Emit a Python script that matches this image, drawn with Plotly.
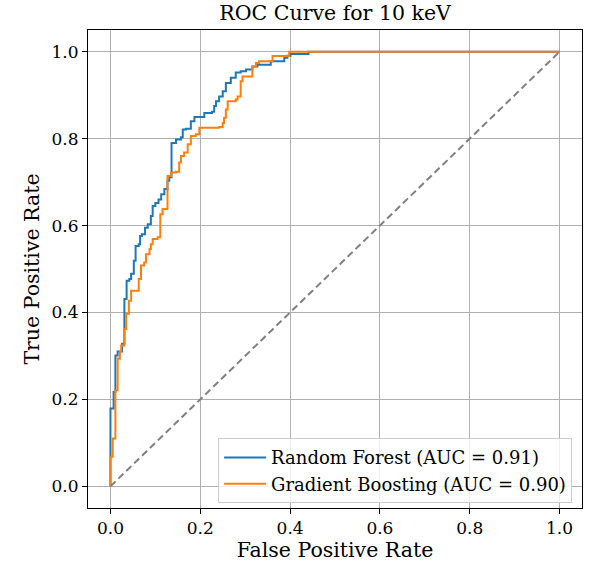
import plotly.graph_objects as go

# Random Forest ROC corner points (fpr, top tpr of each vertical step)
rf_fpr = [0, 0, 0.007, 0.011, 0.016, 0.026, 0.031, 0.036, 0.042, 0.046, 0.052, 0.056,
          0.063, 0.066, 0.070, 0.077, 0.083, 0.090, 0.094, 0.100, 0.107, 0.113, 0.120,
          0.127, 0.131, 0.136, 0.146, 0.157, 0.161, 0.168, 0.179, 0.187, 0.209, 0.226,
          0.231, 0.235, 0.242, 0.250, 0.257, 0.268, 0.279, 0.290, 0.302, 0.316, 0.327,
          0.357, 0.387, 0.394, 0.401, 0.441, 1.0]
rf_tpr = [0, 0.179, 0.217, 0.301, 0.310, 0.328, 0.431, 0.473, 0.477, 0.489, 0.519, 0.553,
          0.557, 0.576, 0.580, 0.595, 0.603, 0.622, 0.645, 0.652, 0.660, 0.672, 0.684,
          0.703, 0.711, 0.790, 0.798, 0.803, 0.821, 0.823, 0.840, 0.850, 0.859, 0.862,
          0.875, 0.886, 0.897, 0.909, 0.928, 0.940, 0.952, 0.955, 0.959, 0.966, 0.970,
          0.978, 0.986, 0.991, 0.995, 1.0, 1.0]

# Gradient Boosting ROC corner points
gb_fpr = [0, 0, 0.005, 0.011, 0.016, 0.021, 0.024, 0.031, 0.035, 0.041, 0.046, 0.063,
          0.068, 0.075, 0.079, 0.087, 0.090, 0.094, 0.105, 0.111, 0.116, 0.127, 0.135,
          0.146, 0.153, 0.157, 0.164, 0.172, 0.179, 0.190, 0.198, 0.242, 0.250, 0.253,
          0.257, 0.261, 0.279, 0.283, 0.290, 0.294, 0.316, 0.324, 0.331, 0.361, 0.398, 1.0]
gb_tpr = [0, 0.068, 0.110, 0.221, 0.294, 0.310, 0.324, 0.362, 0.397, 0.427, 0.450, 0.477,
          0.508, 0.515, 0.534, 0.546, 0.557, 0.569, 0.573, 0.626, 0.638, 0.714, 0.722,
          0.724, 0.745, 0.760, 0.768, 0.787, 0.806, 0.810, 0.825, 0.827, 0.836, 0.848,
          0.867, 0.886, 0.890, 0.897, 0.932, 0.943, 0.966, 0.974, 0.978, 0.990, 1.0, 1.0]

diag = [0, 1]
tick_vals = [0.0, 0.2, 0.4, 0.6, 0.8, 1.0]
tick_text = ["0.0", "0.2", "0.4", "0.6", "0.8", "1.0"]

FONT = "DejaVu Serif"

fig = go.Figure()
fig.add_trace(go.Scatter(x=rf_fpr, y=rf_tpr, mode="lines", line_shape="hv",
                         line=dict(color="#1f77b4", width=2),
                         name="Random Forest (AUC = 0.91)"))
fig.add_trace(go.Scatter(x=gb_fpr, y=gb_tpr, mode="lines", line_shape="hv",
                         line=dict(color="#ff7f0e", width=2),
                         name="Gradient Boosting (AUC = 0.90)"))
fig.add_trace(go.Scatter(x=diag, y=diag, mode="lines",
                         line=dict(color="gray", width=2, dash="7px,4px"),
                         showlegend=False))

axis_common = dict(
    range=[-0.05, 1.05], tickvals=tick_vals, ticktext=tick_text,
    showgrid=True, gridcolor="#b0b0b0", gridwidth=1,
    zeroline=False, showline=True, linecolor="black", linewidth=1, mirror=True,
    ticks="outside", ticklen=5, tickcolor="black",
    tickfont=dict(family=FONT, size=17, color="black"),
)

fig.update_layout(
    width=591, height=565,
    margin=dict(l=88, r=8, t=30, b=55),
    paper_bgcolor="white", plot_bgcolor="white",
    font=dict(family=FONT, color="black"),
    title=dict(text="ROC Curve for 10 keV", x=0.567, xanchor="center",
               y=1 - 13/565, yanchor="middle", font=dict(family=FONT, size=20.5)),
    xaxis=dict(**axis_common, title=dict(text="False Positive Rate",
                                         font=dict(family=FONT, size=20.5), standoff=4)),
    yaxis=dict(**axis_common, title=dict(text="True Positive Rate",
                                         font=dict(family=FONT, size=20.5), standoff=6)),
    legend=dict(x=0.98, y=0.01, xanchor="right", yanchor="bottom",
                bgcolor="rgba(255,255,255,0.8)", bordercolor="#cccccc", borderwidth=1,
                font=dict(family=FONT, size=18), tracegroupgap=0, itemwidth=42),
    showlegend=True,
)

fig.write_html("out.html")
